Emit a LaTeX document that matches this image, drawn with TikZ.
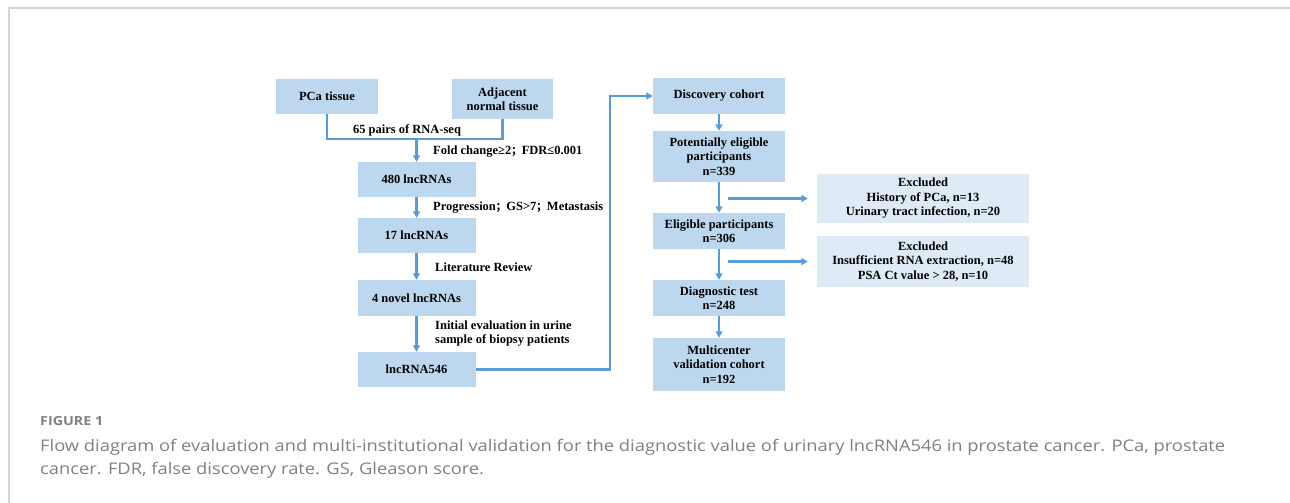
\documentclass[tikz,border=0pt]{standalone}
\usepackage{fontspec}
\usepackage{graphicx}
\setmainfont{Liberation Serif}
\newfontfamily\capfont{Open Sans}
\newfontfamily\cjkfont{Noto Sans CJK SC}
\usetikzlibrary{arrows.meta}
\definecolor{boxblue}{HTML}{BDD7EE}
\definecolor{boxlight}{HTML}{DEEBF7}
\definecolor{arrowblue}{HTML}{5B9BD5}
\definecolor{framegray}{HTML}{D4D4D4}
\definecolor{capgray}{HTML}{808080}
\newcommand{\fsemi}{{\cjkfont\fontsize{10.5}{12}\selectfont\bfseries ；}}
\newcommand{\capstretch}[1]{\scalebox{1.145}[1]{#1}}
\begin{document}
\begin{tikzpicture}[x=1pt,y=-1pt,
  box/.style={fill=boxblue, draw=none, font=\fontsize{12.5}{14.5}\selectfont\bfseries, align=center, inner sep=0pt},
  exbox/.style={box, fill=boxlight},
  conn/.style={draw=arrowblue, line width=2.1pt},
  arr/.style={conn, -{Triangle[length=6.5pt,width=7pt]}},
  lbl/.style={font=\fontsize{12.5}{14.5}\selectfont\bfseries, inner sep=0pt, anchor=west, align=left},
  capt/.style={font=\capfont\fontsize{16}{23}\selectfont, text=capgray, anchor=base west, inner sep=0pt}
]
\useasboundingbox (0,0) rectangle (1290,503);
\draw[framegray, line width=1.5pt] (9,503) -- (9,8) -- (1290,8);

% left column
\node[box, minimum width=102pt, minimum height=35pt] (pca) at (327,96.5) {PCa tissue};
\node[box, minimum width=101pt, minimum height=40pt] (adj) at (502.5,99) {Adjacent\\normal tissue};
\node[box, minimum width=118pt, minimum height=35pt] (n480) at (416.5,179.5) {480 lncRNAs};
\node[box, minimum width=118pt, minimum height=35pt] (n17) at (416.5,235.5) {17 lncRNAs};
\node[box, minimum width=118pt, minimum height=36pt] (n4) at (416.5,298) {4 novel lncRNAs};
\node[box, minimum width=118pt, minimum height=35pt] (n546) at (416.5,369.5) {lncRNA546};

% right column
\node[box, minimum width=132pt, minimum height=36pt] (disc) at (719,96) {Discovery cohort};
\node[box, minimum width=132pt, minimum height=51pt] (pot) at (719,156.5) {Potentially eligible\\participants\\n=339};
\node[box, minimum width=132pt, minimum height=36pt] (elig) at (719,231) {Eligible participants\\n=306};
\node[box, minimum width=132pt, minimum height=36pt] (diag) at (719,298) {Diagnostic test\\n=248};
\node[box, minimum width=132pt, minimum height=53pt] (multi) at (719,364.5) {Multicenter\\validation cohort\\n=192};
\node[exbox, minimum width=212pt, minimum height=49pt] (ex1) at (923,198.5) {Excluded\\History of PCa, n=13\\Urinary tract infection, n=20};
\node[exbox, minimum width=212pt, minimum height=51pt] (ex2) at (923,261.5) {Excluded\\Insufficient RNA extraction, n=48\\PSA Ct value > 28, n=10};

% connectors
\coordinate (j) at (416.5,139);
\draw[conn] (pca.south) |- (j) -| (adj.south);
\draw[arr] (j) -- (n480.north);
\draw[arr] (n480) -- (n17);
\draw[arr] (n17) -- (n4);
\draw[arr] (n4) -- (n546);
\coordinate (bend) at (610,369.5);
\draw[arr] (n546.east) -- (bend) |- (disc.west);
\draw[arr] (disc) -- (pot);
\draw[arr] (pot) -- (elig);
\draw[arr] (elig) -- (diag);
\draw[arr] (diag) -- (multi);
\coordinate (s1) at (728,198.5);
\coordinate (s2) at (728,261.5);
\draw[arr, shorten >=9pt] (s1) -- (ex1.west);
\draw[arr, shorten >=9pt] (s2) -- (ex2.west);

% labels
\node[lbl, anchor=center] (l65) at (407,130) {65 pairs of RNA-seq};
\node[lbl] (lfc) at (433,152) {Fold change≥2\fsemi FDR≤0.001};
\node[lbl] (lprog) at (433,208) {Progression\fsemi GS>7\fsemi Metastasis};
\node[lbl] (llit) at (435,267) {Literature Review};
\node[lbl] (linit) at (435,333.5) {Initial evaluation in urine\\sample of biopsy patients};

% caption
\node[capt, font=\capfont\fontsize{12.5}{15}\selectfont\bfseries] (fig) at (40,425.5) {\capstretch{FIGURE 1}};
\node[capt] (cap1) at (40,451.5) {\capstretch{Flow diagram of evaluation and multi-institutional validation for the diagnostic value of urinary lncRNA546 in prostate cancer. PCa, prostate}};
\node[capt] (cap2) at (40,474.5) {\capstretch{cancer. FDR, false discovery rate. GS, Gleason score.}};
\end{tikzpicture}
\end{document}
